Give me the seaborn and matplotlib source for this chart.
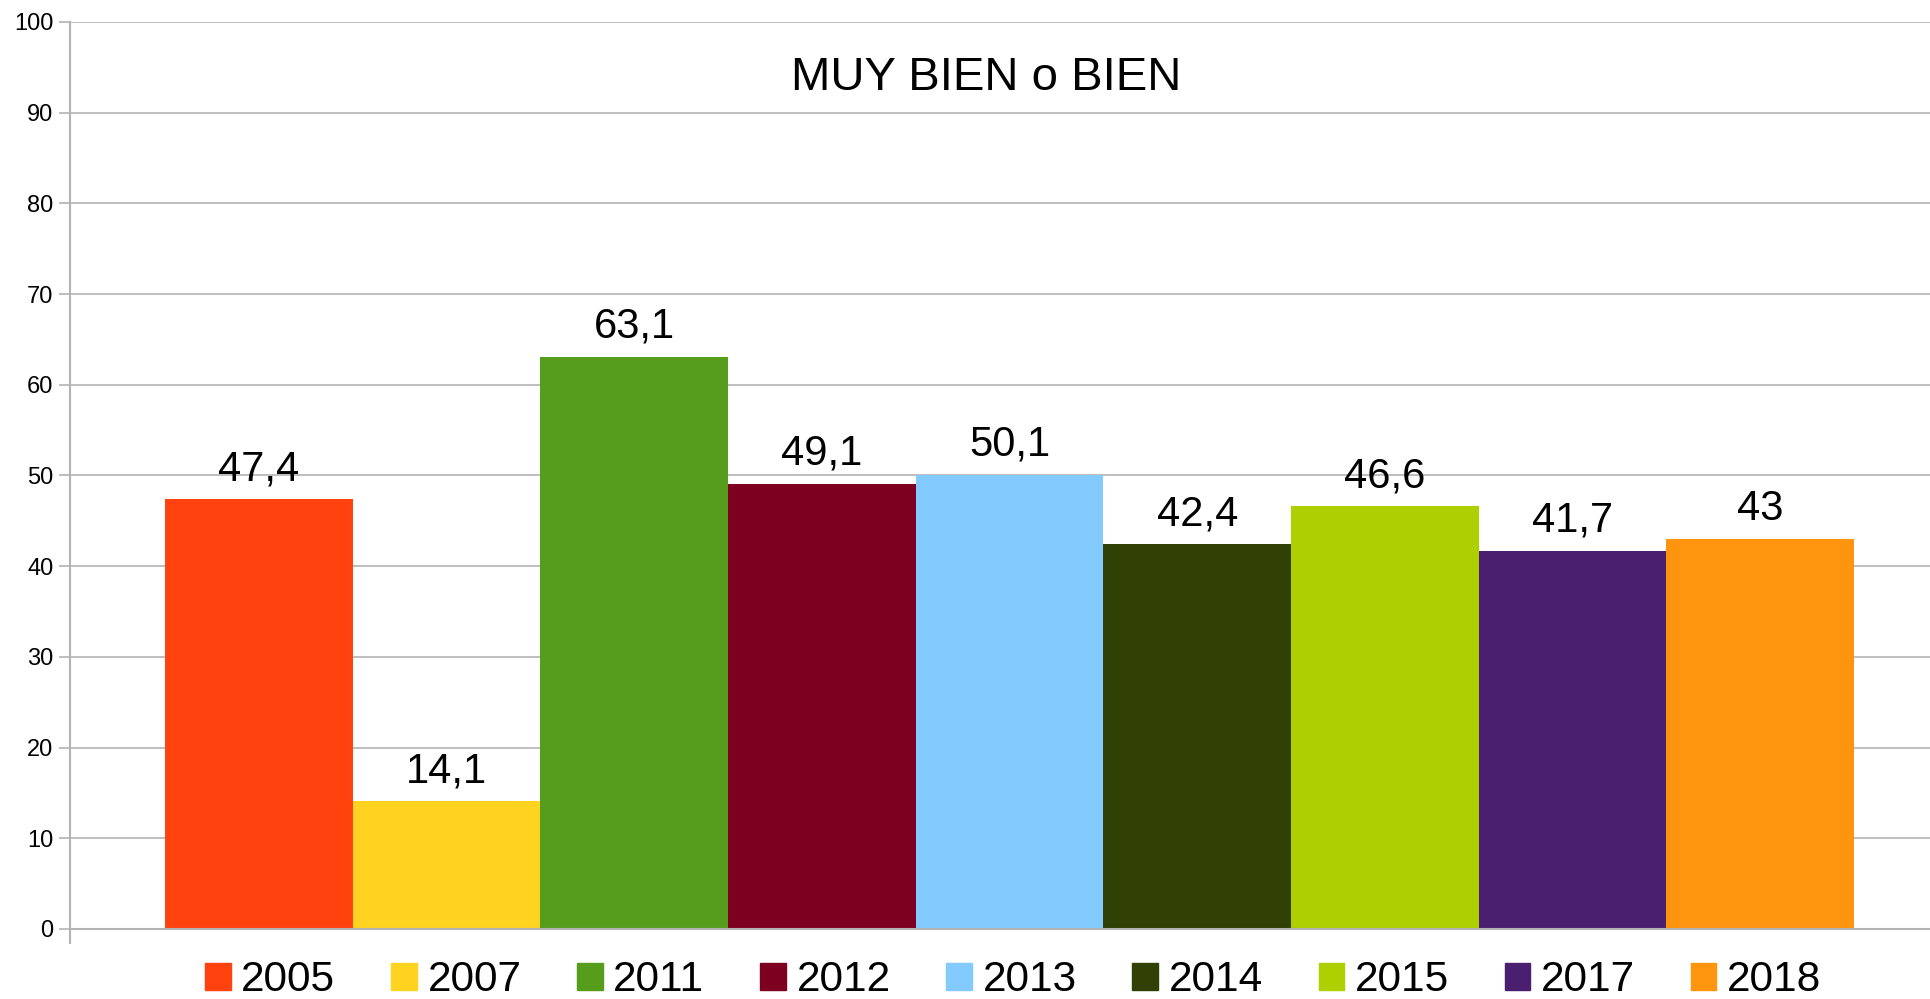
import matplotlib
matplotlib.use("Agg")
import matplotlib.pyplot as plt
import pandas as pd
import seaborn as sns

years = ["2005", "2007", "2011", "2012", "2013", "2014", "2015", "2017", "2018"]
values = [47.4, 14.1, 63.1, 49.1, 50.1, 42.4, 46.6, 41.7, 43.0]
colors = ["#ff420e", "#ffd320", "#579d1c", "#7e0021", "#83caff",
          "#314004", "#aecf00", "#4b1f6f", "#ff950e"]
title = "MUY BIEN o BIEN"

sns.set_theme(style="white")
plt.rcParams["font.family"] = ["Liberation Sans", "DejaVu Sans"]
plt.rcParams["text.color"] = "black"
plt.rcParams["ytick.labelcolor"] = "black"

df = pd.DataFrame({"grupo": [title] * len(years), "year": years, "valor": values})

fig = plt.figure(figsize=(19.3, 9.99), dpi=100)
ax = fig.add_axes([0.0363, 0.0701, 0.9637, 0.908])

sns.barplot(data=df, x="grupo", y="valor", hue="year", palette=colors,
            width=0.8, gap=0, saturation=1, linewidth=0, ax=ax, legend=False)

for bars, v in zip(ax.containers, values):
    ax.bar_label(bars, labels=[f"{v:g}".replace(".", ",")], padding=7,
                 fontsize=30, color="black")

ax.set_ylim(0, 100)
ax.set_xlim(-0.445, 0.436)
ax.set_yticks(range(0, 101, 10))
ax.yaxis.grid(True, color="#b3b3b3", linewidth=1.2)
ax.set_axisbelow(True)
ax.set_xticks([])
ax.set_xlabel("")
ax.set_ylabel("")
ax.tick_params(axis="y", length=8, width=1.2, color="#b3b3b3", labelsize=17,
               labelcolor="black", pad=4, left=True)
for side in ["top", "right"]:
    ax.spines[side].set_visible(False)
for side in ["left", "bottom"]:
    ax.spines[side].set_color("#b3b3b3")
    ax.spines[side].set_linewidth(1.5)
ax.spines["left"].set_bounds(-1.5, 100)

ax.text(0.4925, 0.938, title, transform=ax.transAxes, ha="center", va="center",
        fontsize=34, color="black")

handles = [plt.Rectangle((0, 0), 1, 1, color=c) for c in colors]
fig.legend(handles, years, loc="center", bbox_to_anchor=(0.525, 0.019), ncol=len(years),
           frameon=False, fontsize=30.5, handlelength=0.6, handleheight=0.6,
           handletextpad=0.25, columnspacing=1.32)

fig.savefig("out.png", dpi=100)
